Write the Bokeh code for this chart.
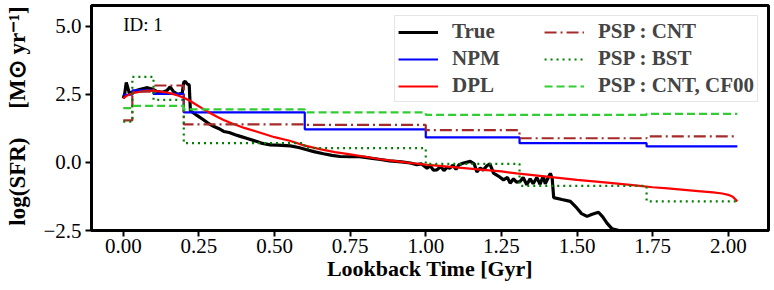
from bokeh.plotting import figure
from bokeh.models import Legend, LegendItem, Label, FixedTicker, Range1d
from bokeh.embed import file_html
from bokeh.resources import INLINE

# ---------------- data ----------------
bin_edges = [0.0, 0.03, 0.1, 0.2, 0.6, 1.0, 1.31, 1.73, 2.03]
npm_vals = [2.49, 2.65, 2.52, 1.84, 1.22, 0.92, 0.71, 0.59]
psp_cnt_vals = [1.55, 2.60, 2.83, 1.40, 1.38, 1.19, 0.89, 0.96]
psp_bst_vals = [1.50, 3.15, 2.30, 0.71, 0.53, -0.05, -0.86, -1.43]
psp_cf00_vals = [2.00, 2.08, 2.08, 1.95, 1.84, 1.75, 1.75, 1.79]

true_x = [0.000, 0.005, 0.010, 0.015, 0.020, 0.030, 0.045, 0.060, 0.080, 0.095,
          0.110, 0.130, 0.145, 0.155, 0.165, 0.180, 0.195, 0.200, 0.205, 0.212,
          0.218, 0.222, 0.245, 0.265, 0.280, 0.300, 0.315, 0.332, 0.350, 0.370,
          0.387, 0.410, 0.442, 0.460, 0.486, 0.510, 0.552, 0.580, 0.607, 0.630,
          0.662, 0.690, 0.717, 0.750, 0.773, 0.800, 0.817, 0.850, 0.880, 0.920,
          0.949, 0.970, 0.985, 1.004, 1.015, 1.025, 1.037, 1.050, 1.060, 1.070,
          1.080, 1.090, 1.100, 1.110, 1.125, 1.147, 1.160, 1.169, 1.180, 1.190,
          1.202, 1.212, 1.224, 1.240, 1.257, 1.270, 1.279, 1.290, 1.300, 1.312,
          1.322, 1.334, 1.345, 1.355, 1.367, 1.378, 1.388, 1.395, 1.405, 1.412,
          1.418, 1.423, 1.450, 1.478, 1.500, 1.515, 1.533, 1.550, 1.571, 1.585,
          1.599, 1.616, 1.643, 1.700, 1.800, 2.030]
true_y = [2.35, 2.55, 2.94, 2.75, 2.55, 2.58, 2.65, 2.70, 2.75, 2.70,
          2.62, 2.58, 2.65, 2.78, 2.62, 2.50, 2.55, 2.95, 2.98, 2.88,
          2.85, 1.90, 1.72, 1.57, 1.45, 1.32, 1.25, 1.14, 1.10, 1.02,
          0.96, 0.88, 0.77, 0.70, 0.65, 0.64, 0.61, 0.55, 0.47, 0.40,
          0.32, 0.26, 0.22, 0.21, 0.22, 0.19, 0.16, 0.11, 0.06, 0.02,
          -0.02, -0.08, -0.05, -0.21, -0.12, -0.28, -0.27, -0.15, -0.30, -0.18,
          -0.21, -0.10, -0.25, -0.08, -0.02, 0.04, -0.05, -0.35, -0.20, -0.28,
          -0.12, -0.05, -0.39, -0.50, -0.64, -0.55, -0.76, -0.60, -0.72, -0.70,
          -0.55, -0.82, -0.60, -0.78, -0.55, -0.80, -0.50, -0.78, -0.55, -0.40,
          -0.60, -1.29, -1.36, -1.43, -1.68, -1.88, -1.98, -1.90, -1.83, -2.00,
          -2.23, -2.44, -2.51, -2.60, -2.80, -3.20]

dpl_x = [0.00, 0.01, 0.02, 0.04, 0.06, 0.08, 0.10, 0.12, 0.14, 0.16,
         0.18, 0.20, 0.22, 0.24, 0.265, 0.29, 0.31, 0.33, 0.36, 0.40,
         0.44, 0.50, 0.55, 0.60, 0.65, 0.70, 0.75, 0.80, 0.85, 0.90,
         0.95, 1.00, 1.10, 1.20, 1.25, 1.30, 1.40, 1.50, 1.60, 1.70,
         1.75, 1.80, 1.90, 1.95, 1.98, 2.00, 2.015, 2.03]
dpl_y = [2.36, 2.44, 2.50, 2.57, 2.61, 2.63, 2.63, 2.61, 2.58, 2.53,
         2.46, 2.38, 2.27, 2.13, 1.96, 1.80, 1.68, 1.57, 1.43, 1.27,
         1.14, 0.93, 0.80, 0.62, 0.49, 0.38, 0.30, 0.21, 0.12, 0.05,
         -0.02, -0.08, -0.18, -0.28, -0.33, -0.40, -0.52, -0.64, -0.74, -0.85,
         -0.91, -0.95, -1.05, -1.10, -1.14, -1.19, -1.26, -1.43]

x_ticks = [0.0, 0.25, 0.5, 0.75, 1.0, 1.25, 1.5, 1.75, 2.0]
x_tick_labels = ["0.00", "0.25", "0.50", "0.75", "1.00", "1.25", "1.50", "1.75", "2.00"]
y_ticks = [-2.5, 0.0, 2.5, 5.0]
y_tick_labels = ["\u22122.5", "0.0", "2.5", "5.0"]

series_labels = ["True", "NPM", "DPL", "PSP : CNT", "PSP : BST", "PSP : CNT, CF00"]

SERIF = "Liberation Serif"

p = figure(width=774, height=290, output_backend="svg", toolbar_location=None,
           x_range=Range1d(-0.105, 2.133), y_range=Range1d(-2.5, 5.77),
           min_border_left=91, min_border_right=6, min_border_top=5,
           min_border_bottom=60)
p.background_fill_color = "white"
p.border_fill_color = "white"
p.outline_line_color = "black"
p.outline_line_width = 3
p.grid.visible = False

def stepify(vals):
    return list(vals) + [vals[-1]]

r_true = p.line(true_x, true_y, line_color="black", line_width=3.2)
r_npm = p.step(bin_edges, stepify(npm_vals), mode="after", line_color="blue", line_width=2.2)
r_dpl = p.line(dpl_x, dpl_y, line_color="red", line_width=2.2)
r_cnt = p.step(bin_edges, stepify(psp_cnt_vals), mode="after", line_color="#A52A2A",
               line_width=2.2, line_dash="12 4 2 4")
r_bst = p.step(bin_edges, stepify(psp_bst_vals), mode="after", line_color="#008000",
               line_width=2.2, line_dash="2 4")
r_cf = p.step(bin_edges, stepify(psp_cf00_vals), mode="after", line_color="#32CD32",
              line_width=2.2, line_dash="8 4")

for ax in (p.xaxis[0], p.yaxis[0]):
    ax.axis_line_color = "black"
    ax.axis_line_width = 3
    ax.major_tick_line_width = 2
    ax.major_tick_out = 6
    ax.major_tick_in = 0
    ax.minor_tick_line_color = None
    ax.major_label_text_font = SERIF
    ax.major_label_text_font_size = "21px"
    ax.major_label_text_color = "black"
    ax.axis_label_text_font = SERIF
    ax.axis_label_text_font_style = "bold"
    ax.axis_label_text_color = "black"

p.xaxis.axis_label_text_font_size = "22px"
p.yaxis.axis_label_text_font_size = "23px"
p.xaxis.ticker = FixedTicker(ticks=x_ticks)
p.xaxis.major_label_overrides = {t: s for t, s in zip(x_ticks, x_tick_labels)}
p.yaxis.ticker = FixedTicker(ticks=y_ticks)
p.yaxis.major_label_overrides = {t: s for t, s in zip(y_ticks, y_tick_labels)}
p.xaxis.axis_label = "Lookback Time [Gyr]"
p.yaxis.axis_label = "log(SFR)\u00a0\u00a0\u00a0\u00a0\u00a0[M\u2299 yr\u207b\u00b9]"
p.xaxis.major_label_standoff = 2
p.xaxis.axis_label_standoff = 0
p.yaxis.major_label_standoff = 4
p.yaxis.axis_label_standoff = 10

legend = Legend(items=[LegendItem(label=l, renderers=[r]) for l, r in
                       zip(series_labels, [r_true, r_npm, r_dpl, r_cnt, r_bst, r_cf])],
                location="top_right", orientation="vertical", nrows=3)
legend.label_text_font = SERIF
legend.label_text_font_size = "21px"
legend.label_text_font_style = "bold"
legend.label_standoff = 14
legend.label_width = 90
legend.glyph_width = 40
legend.glyph_height = 20
legend.label_height = 24
legend.spacing = 2
legend.padding = 3
legend.margin = 10
legend.border_line_color = "#cccccc"
legend.border_line_width = 1
legend.background_fill_alpha = 0.85
p.add_layout(legend)

p.add_layout(Label(x=0.0, y=5.09, text="ID: 1", text_font=SERIF, text_font_size="19px",
                   text_baseline="middle", text_color="black"))

open("out.html", "w").write(file_html(p, INLINE))
